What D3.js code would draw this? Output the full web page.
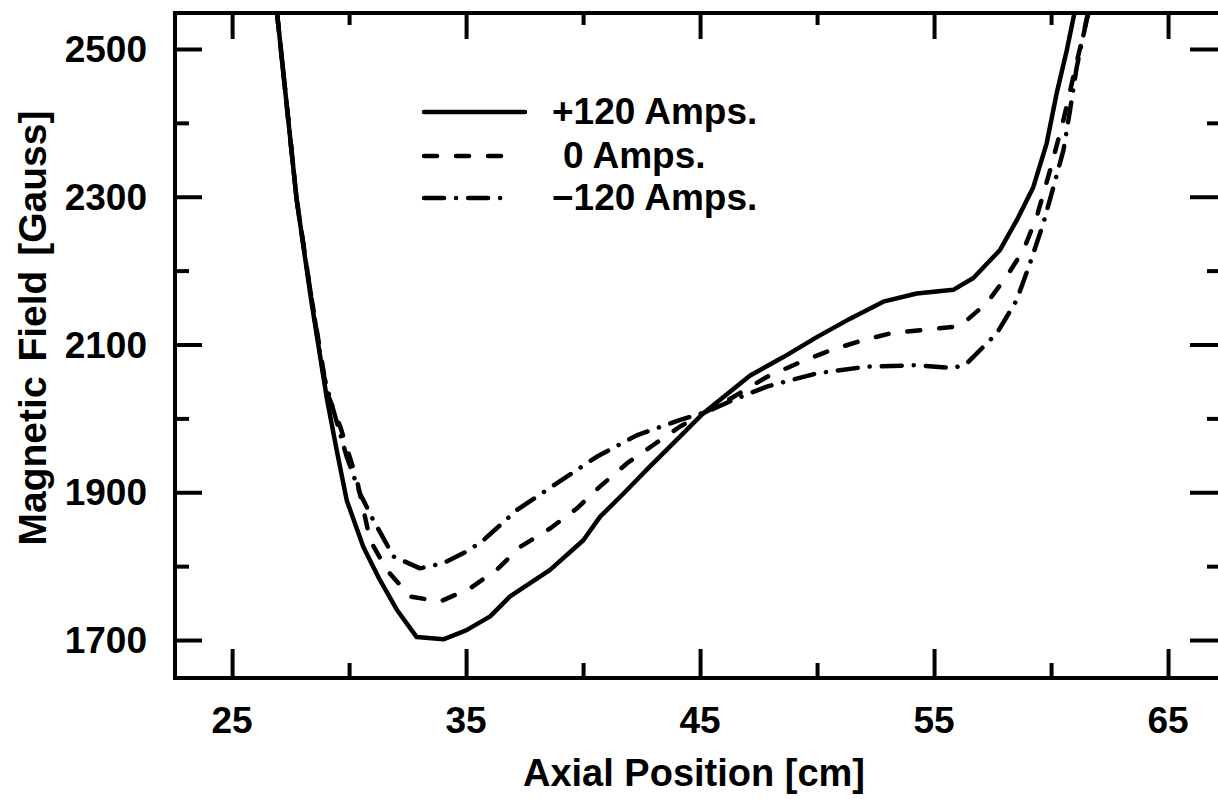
<!DOCTYPE html>
<html><head><meta charset="utf-8">
<script src="https://cdn.jsdelivr.net/npm/d3@7"></script>
<style>
html,body{margin:0;padding:0;background:#fff;}
text{font-family:"Liberation Sans",Arial,sans-serif;font-weight:bold;fill:#000;}
</style></head>
<body><svg id="c" width="1218" height="799"></svg>
<script>
// ---- data ----
const seriesNames = ["+120 Amps.", "0 Amps.", "\u2212120 Amps."];
const xPlus120 = [26.92,27.76,28.38,29.06,29.47,29.9,30.61,31.32,32.04,32.89,34.03,35.0,36.03,36.88,38.59,40.01,40.73,41.72,42.86,44.29,45.14,47.14,48.56,49.99,51.41,52.83,54.26,55.82,56.68,57.82,58.53,59.24,59.81,60.24,60.67,61.02];
const yPlus120 = [2549,2296,2160,2025,1957,1889,1826,1781,1741,1704,1701,1713,1732,1759,1795,1835,1867,1898,1935,1980,2007,2058,2083,2110,2135,2158,2169,2174,2190,2228,2268,2313,2372,2440,2498,2552];
const xZero = [26.92,27.76,28.38,29.06,29.62,30.33,30.9,31.61,32.61,33.89,35.17,36.31,37.31,38.59,39.73,40.73,41.87,43.0,44.15,45.14,46.42,47.85,49.13,50.56,51.98,53.26,54.69,56.11,57.25,58.1,58.82,59.39,59.96,60.53,60.95,61.45,61.6];
const yZero = [2549,2296,2165,2035,1989,1917,1835,1795,1759,1752,1770,1795,1826,1851,1878,1908,1939,1964,1989,2007,2029,2056,2074,2092,2106,2116,2120,2125,2156,2192,2228,2273,2336,2404,2462,2530,2552];
const xMinus120 = [26.92,27.76,28.38,28.9,29.33,29.9,30.47,31.04,31.9,33.03,34.03,35.03,35.74,37.17,38.87,40.58,42.29,44.15,45.28,46.42,47.85,49.99,52.12,54.26,55.82,56.39,57.11,57.68,58.53,59.1,59.67,60.1,60.53,60.81,61.1,61.52,61.65];
const yMinus120 = [2549,2296,2165,2060,2011,1948,1898,1862,1813,1797,1804,1820,1835,1876,1912,1948,1977,1998,2009,2025,2043,2061,2070,2072,2068,2074,2097,2115,2160,2210,2264,2313,2363,2417,2476,2539,2552];
const xMajorTicks = [25,35,45,55,65];
const xMinorTicks = [30,40,50,60];
const yMajorTicks = [1700,1900,2100,2300,2500];
const yMinorTicks = [1800,2000,2200,2400];
const xTitle = "Axial Position [cm]";
const yTitle = "Magnetic Field [Gauss]";

// ---- layout ----
const L = 175, R = 1220, T = 13, B = 678;
const svg = d3.select("#c");
const x = d3.scaleLinear().domain([22.56, 67.22]).range([L, R]);
const y = d3.scaleLinear().domain([1648.6, 2548.7]).range([B, T]);

const series = [
  {name: seriesNames[0], xs: xPlus120, ys: yPlus120, dash: null, legEnd: 525},
  {name: seriesNames[1], xs: xZero, ys: yZero, dash: "13,19", legEnd: 504},
  {name: seriesNames[2], xs: xMinus120, ys: yMinus120, dash: "20,12,0.1,12", legEnd: 501}
];

svg.append("clipPath").attr("id","clip").append("rect")
  .attr("x", L).attr("y", T).attr("width", R - L).attr("height", B - T);

const line = d3.line().x(d => x(d[0])).y(d => y(d[1]));
const g = svg.append("g").attr("clip-path","url(#clip)");
series.forEach(s => {
  const pts = s.xs.map((v,i) => [v, s.ys[i]]);
  g.append("path").datum(pts).attr("d", line)
    .attr("fill","none").attr("stroke","#000").attr("stroke-width",4.5)
    .attr("stroke-linejoin","round").attr("stroke-linecap","round")
    .attr("stroke-dasharray", s.dash);
});

// axes with inward ticks
function ax(axisFn, scale, ticks, size, transform){
  svg.append("g").attr("transform", transform)
    .call(axisFn(scale).tickValues(ticks).tickSize(size).tickFormat(""))
    .call(a => { a.select(".domain").remove();
      a.selectAll("line").attr("stroke","#000").attr("stroke-width",4); });
}
ax(d3.axisBottom, x, xMajorTicks, -29, `translate(0,${B})`);
ax(d3.axisBottom, x, xMinorTicks, -15, `translate(0,${B})`);
ax(d3.axisTop, x, xMajorTicks, -26, `translate(0,${T})`);
ax(d3.axisTop, x, xMinorTicks, -12, `translate(0,${T})`);
ax(d3.axisLeft, y, yMajorTicks, -27, `translate(${L},0)`);
ax(d3.axisLeft, y, yMinorTicks, -14, `translate(${L},0)`);
ax(d3.axisRight, y, yMajorTicks, -30, `translate(${R},0)`);
ax(d3.axisRight, y, yMinorTicks, -13, `translate(${R},0)`);

svg.append("rect").attr("x", L).attr("y", T).attr("width", R - L).attr("height", B - T)
  .attr("fill","none").attr("stroke","#000").attr("stroke-width",4);

// tick labels
svg.selectAll(".xl").data(xMajorTicks).enter().append("text")
  .attr("x", d => x(d)).attr("y", 733).attr("text-anchor","middle")
  .attr("font-size", 37).text(d => d);
svg.selectAll(".yl").data(yMajorTicks).enter().append("text")
  .attr("x", 147).attr("y", d => y(d) + 13).attr("text-anchor","end")
  .attr("font-size", 37).text(d => d);

// titles
svg.append("text").attr("x", 694).attr("y", 786).attr("text-anchor","middle")
  .attr("font-size", 38).text(xTitle);
svg.append("text").attr("transform","translate(46,328) rotate(-90)")
  .attr("text-anchor","middle").attr("font-size", 39).attr("word-spacing", 4).text(yTitle);

// legend
const legY = [112, 156, 198];
series.forEach((s,i) => {
  svg.append("line").attr("x1", 424).attr("x2", s.legEnd).attr("y1", legY[i]).attr("y2", legY[i])
    .attr("stroke","#000").attr("stroke-width",4.5).attr("stroke-linecap","round")
    .attr("stroke-dasharray", s.dash);
  svg.append("text").attr("x", i === 1 ? 563 : 552).attr("y", legY[i] + 12)
    .attr("font-size", 37).text(s.name);
});
</script></body></html>
